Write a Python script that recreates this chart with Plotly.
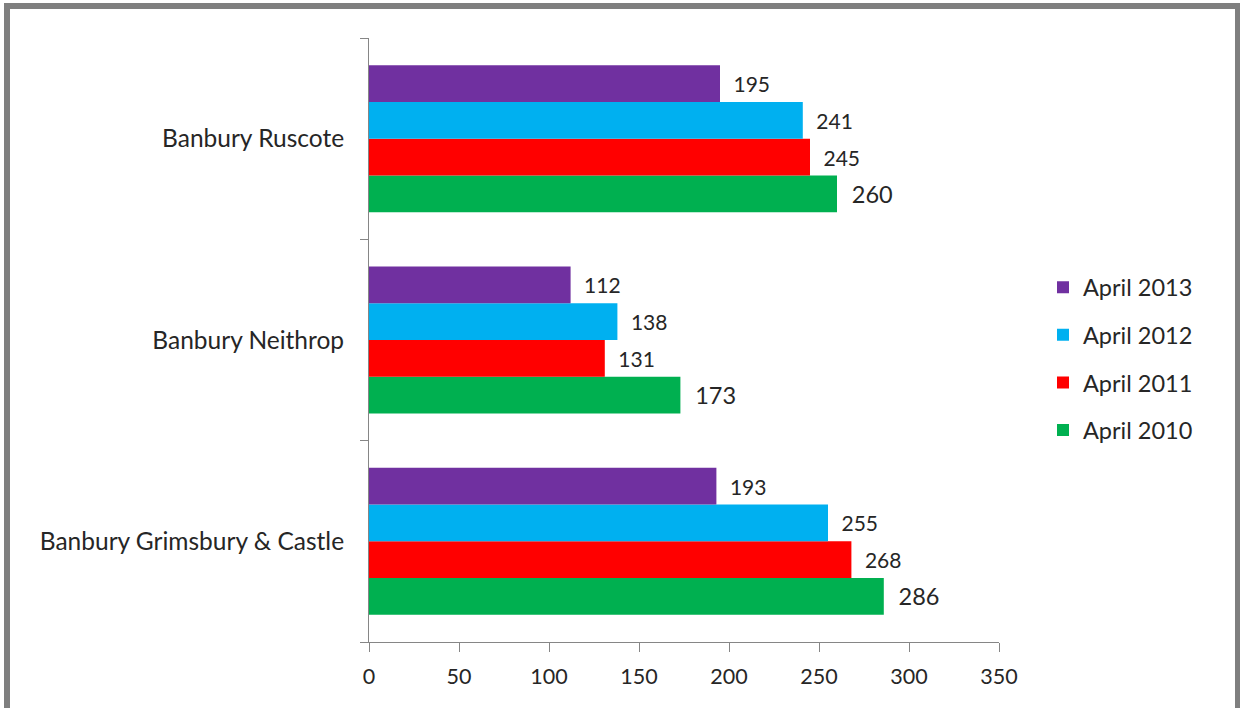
import plotly.graph_objects as go

# Wards (bottom to top on the chart)
wards = ["Banbury Grimsbury & Castle", "Banbury Neithrop", "Banbury Ruscote"]

# Counts per ward for each April snapshot
april_2010 = [286, 173, 260]
april_2011 = [268, 131, 245]
april_2012 = [255, 138, 241]
april_2013 = [193, 112, 195]

x_ticks = [0, 50, 100, 150, 200, 250, 300, 350]

# name, values, colour, label size, legend position (newest first)
series = [
    ("April 2010", april_2010, "#00B050", 23.5, 4),
    ("April 2011", april_2011, "#FF0000", 21, 3),
    ("April 2012", april_2012, "#00B0F0", 21, 2),
    ("April 2013", april_2013, "#7030A0", 21, 1),
]

FONT = "Lato, 'Open Sans', sans-serif"
TEXT = "#262626"
AXIS = "#868686"

fig = go.Figure()
for name, vals, color, lbl_size, rank in series:
    fig.add_trace(go.Bar(
        y=wards,
        x=vals,
        name=name,
        orientation="h",
        marker=dict(color=color, line=dict(width=0)),
        text=vals,
        texttemplate="\u2002%{x}",
        textposition="outside",
        textfont=dict(family=FONT, size=lbl_size, color=TEXT),
        constraintext="none",
        cliponaxis=False,
        legendgroup=name,
        legendrank=rank,
        hoverinfo="x+name",
    ))

W, H = 1240, 708
L, R, T, B = 369, 999, 38, 642
pw, ph = R - L, B - T


def px_x(p):
    return (p - L) / pw


def px_y(p):
    return (B - p) / ph


fig.update_layout(
    width=W,
    height=H,
    margin=dict(l=L, r=W - R, t=T, b=H - B, pad=0),
    paper_bgcolor="white",
    plot_bgcolor="white",
    barmode="group",
    bargap=0.27,
    bargroupgap=0,
    font=dict(family=FONT, size=21, color=TEXT),
    showlegend=True,
    legend=dict(
        traceorder="grouped",
        tracegroupgap=14,
        x=px_x(1043),
        xanchor="left",
        y=px_y(359),
        yanchor="middle",
        font=dict(family=FONT, size=23.5, color=TEXT),
        bgcolor="rgba(0,0,0,0)",
        itemclick=False,
    ),
    xaxis=dict(
        range=[0, 350],
        tickvals=x_ticks,
        ticktext=[str(v) for v in x_ticks],
        showgrid=False,
        zeroline=False,
        showline=True,
        linecolor=AXIS,
        linewidth=1,
        ticks="outside",
        ticklen=9,
        tickcolor=AXIS,
        tickfont=dict(family=FONT, size=21.5, color=TEXT),
        ticklabelstandoff=6,
        fixedrange=True,
    ),
    yaxis=dict(
        type="category",
        categoryorder="array",
        categoryarray=wards,
        range=[-0.5, 2.5],
        showgrid=False,
        zeroline=False,
        showline=True,
        linecolor=AXIS,
        linewidth=1,
        ticks="outside",
        tickson="boundaries",
        ticklen=8,
        tickcolor=AXIS,
        tickfont=dict(family=FONT, size=24.5, color=TEXT),
        ticklabelstandoff=19,
        fixedrange=True,
    ),
    shapes=[
        dict(
            type="rect",
            xref="paper",
            yref="paper",
            x0=px_x(7),
            x1=px_x(1238),
            y0=px_y(730),
            y1=px_y(6),
            line=dict(color="#7F7F7F", width=6),
            fillcolor="rgba(0,0,0,0)",
            layer="above",
        )
    ],
)

fig.write_html("out.html", config={"displayModeBar": False})
